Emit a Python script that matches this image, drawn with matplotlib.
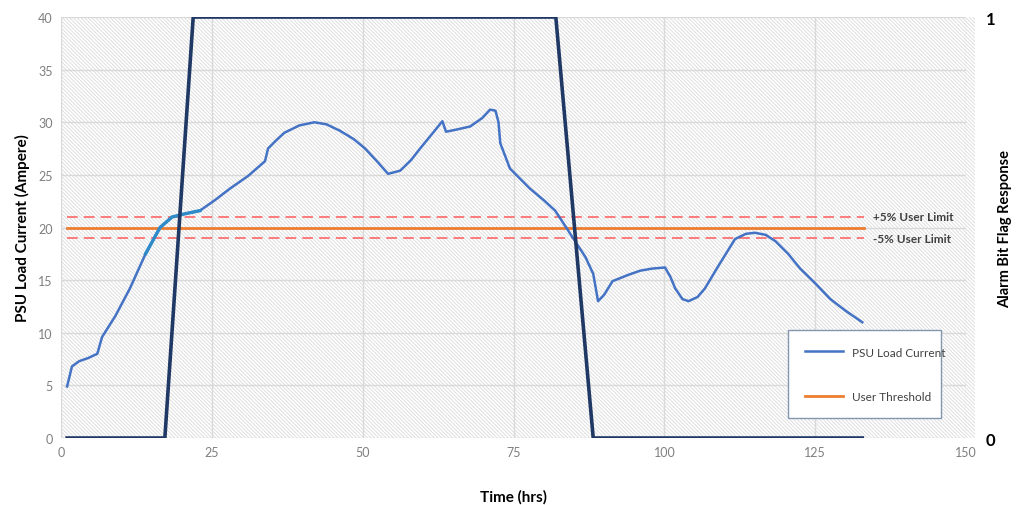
import matplotlib as mpl
mpl.use('Agg')
import matplotlib.pyplot as plt
from matplotlib.patches import Rectangle

plt.rcParams['font.family'] = ['Lato', 'DejaVu Sans']
plt.rcParams['hatch.color'] = '#dadada'
plt.rcParams['hatch.linewidth'] = 0.6

# PSU load current (hrs, A)
time_hrs = [1, 1.8, 3, 4.5, 6, 6.8, 9, 11.4, 14, 16.4, 18.4, 20.5, 23, 25.5,
            28, 31, 33.8, 34.3, 35.5, 37, 39.5, 42, 44, 46.2, 48.5, 50.4,
            52.5, 54.2, 56.2, 58, 59.5, 61.5, 63.2, 63.8, 65.5, 67.8, 69.8,
            71.1, 72.0, 72.5, 72.8, 74.4, 77.7, 80, 81.9, 84.4, 86.9, 88.2,
            89, 90, 91.4, 94, 96, 98, 100.1, 101, 101.8, 103, 104, 105.5,
            106.7, 109, 111.7, 113.5, 115, 116.8, 118.4, 120.5, 122.5, 125,
            127.5, 130, 132.8]
load_current = [4.9, 6.8, 7.3, 7.6, 8.0, 9.6, 11.6, 14.2, 17.5, 20.0, 21.0,
                21.3, 21.6, 22.6, 23.7, 24.9, 26.3, 27.5, 28.2, 29.0, 29.7,
                30.0, 29.8, 29.2, 28.4, 27.5, 26.2, 25.1, 25.4, 26.4, 27.5,
                28.9, 30.1, 29.1, 29.3, 29.6, 30.4, 31.2, 31.1, 30.0, 28.0,
                25.6, 23.7, 22.6, 21.6, 19.4, 17.2, 15.6, 13.0, 13.6, 14.9,
                15.5, 15.9, 16.1, 16.2, 15.3, 14.2, 13.2, 13.0, 13.4, 14.2,
                16.4, 18.9, 19.4, 19.5, 19.3, 18.7, 17.5, 16.1, 14.7, 13.2,
                12.1, 11.0]

# highlighted stretch of the load curve
hl_time = [14, 16.4, 18.4, 20.5, 23]
hl_current = [17.5, 20.0, 21.0, 21.3, 21.6]

# alarm bit flag (secondary axis)
alarm_time = [1, 17.2, 21.9, 82, 88.2, 132.8]
alarm_flag = [0, 0, 1, 1, 0, 0]

threshold = 20
upper_limit = 21
lower_limit = 19
limit_span = [1, 133]

x_ticks = [0, 25, 50, 75, 100, 125, 150]
y_ticks = [0, 5, 10, 15, 20, 25, 30, 35, 40]

fig = plt.figure(figsize=(10.18, 5.06), dpi=100)
ax = fig.add_axes([0.06, 0.1324, 0.889, 0.8320])
ax.set_facecolor('white')
ax.add_patch(Rectangle((0, 0), 1.01, 1, transform=ax.transAxes,
                       facecolor='white', edgecolor='#dadada',
                       hatch='\\' * 9, linewidth=0, zorder=0, clip_on=False))

ax.set_xlim(0, 150)
ax.set_ylim(0, 40)
ax.set_xticks(x_ticks)
ax.set_yticks(y_ticks)
ax.grid(True, color='#d9d9d9', linewidth=1.0, zorder=1)
ax.set_axisbelow(False)
for s in ax.spines.values():
    s.set_visible(False)
ax.tick_params(length=0, colors='#7f7f7f', labelsize=9, pad=6)

ax.plot(limit_span, [upper_limit, upper_limit], color='#ff5a5a', lw=1.1,
        dashes=(7, 4), zorder=3)
ax.plot(limit_span, [lower_limit, lower_limit], color='#ff5a5a', lw=1.1,
        dashes=(7, 4), zorder=3)
ax.plot(limit_span, [threshold, threshold], color='#ed7d31', lw=2.0,
        zorder=3, label='User Threshold')
ax.plot(time_hrs, load_current, color='#4472c4', lw=1.8,
        zorder=4, label='PSU Load Current')
ax.plot(hl_time, hl_current, color='#2e8bc8', lw=2.4, zorder=4)

ax.text(134.5, upper_limit, '+5% User Limit', fontsize=8.5, fontweight='bold',
        color='#404040', va='center')
ax.text(134.5, lower_limit, '-5% User Limit', fontsize=8.5, fontweight='bold',
        color='#404040', va='center')

ax.set_xlabel('Time (hrs)', fontsize=11, fontweight='bold', labelpad=22)
ax.set_ylabel('PSU Load Current (Ampere)', fontsize=11, fontweight='bold',
              labelpad=6)

ax2 = ax.twinx()
ax2.set_ylim(0, 1)
ax2.set_yticks([0, 1])
ax2.tick_params(length=0, labelsize=12, pad=14)
for t in ax2.get_yticklabels():
    t.set_fontweight('bold')
for s in ax2.spines.values():
    s.set_visible(False)
ax2.plot(alarm_time, alarm_flag, color='#203864', lw=2.6, zorder=5)
ax2.set_ylabel('Alarm Bit Flag Response', fontsize=10.5, fontweight='bold',
               rotation=90, labelpad=2)

handles, labels = ax.get_legend_handles_labels()
order = [labels.index('PSU Load Current'), labels.index('User Threshold')]
leg = ax2.legend([handles[i] for i in order], [labels[i] for i in order],
                 loc='lower left', bbox_to_anchor=(0.797, 0.033, 0.182, 0.22),
                 mode='expand', frameon=True, fancybox=False, fontsize=8.5,
                 labelspacing=2.8, handlelength=3.2, borderpad=1.4,
                 labelcolor='#404040')
leg.get_frame().set_edgecolor('#8497b0')
leg.get_frame().set_linewidth(1.0)
leg.get_frame().set_facecolor('white')
leg.get_frame().set_alpha(1)

fig.savefig('out.png', dpi=100)
